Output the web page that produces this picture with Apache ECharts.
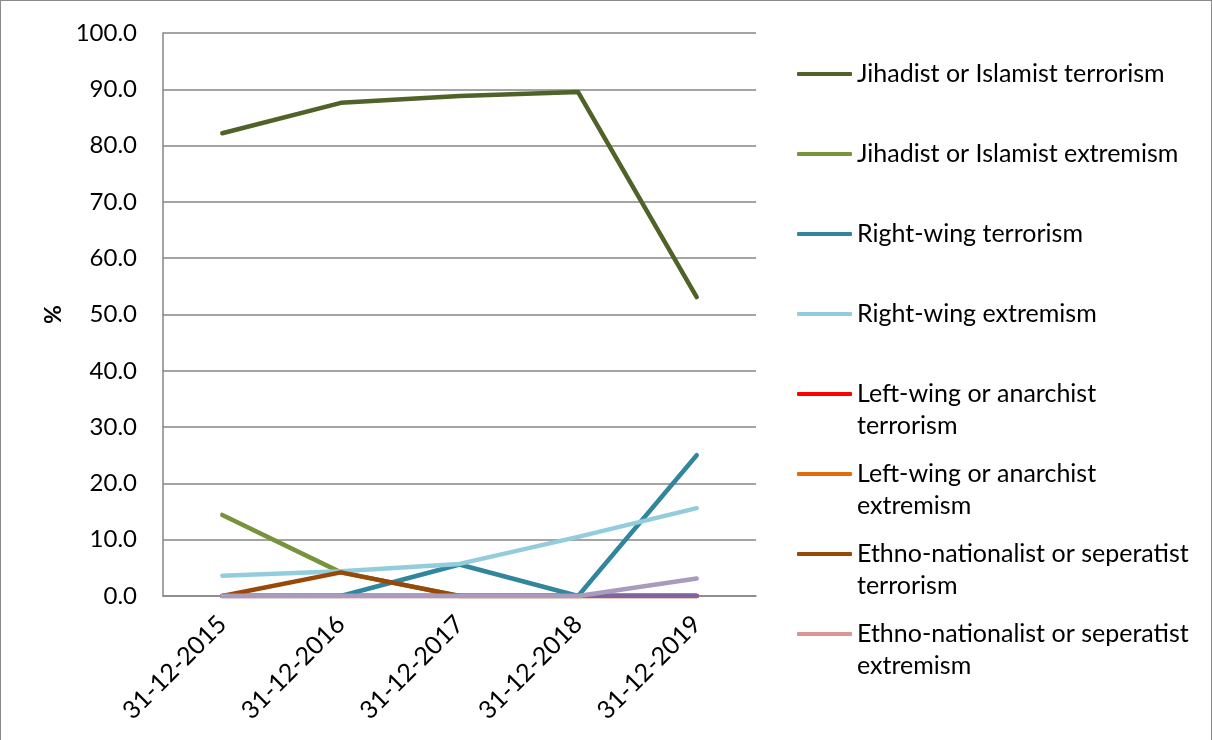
<!DOCTYPE html>
<html>
<head>
<meta charset="utf-8">
<script src="https://cdn.jsdelivr.net/npm/echarts@6/dist/echarts.min.js"></script>
<style>
  html, body { margin: 0; padding: 0; background: #fff; }
  #chart { width: 1212px; height: 740px; box-sizing: border-box; border: 1px solid #8a8a8a; border-bottom: none; }
</style>
</head>
<body>
<div id="chart"></div>
<script>
// Share of cases by ideology, year-end snapshots (%)
const categories = ['31-12-2015', '31-12-2016', '31-12-2017', '31-12-2018', '31-12-2019'];

const jihadistTerrorism   = [82.2, 87.6, 88.8, 89.5, 53.1];
const jihadistExtremism   = [14.4, 4.2, 0, 0, 0];
const rightTerrorism      = [0, 0, 5.6, 0, 25.0];
const rightExtremism      = [3.6, 4.4, 5.7, 10.5, 15.6];
const leftTerrorism       = [0, 0, 0, 0, 0];
const leftExtremism       = [0, 0, 0, 0, 0];
const ethnoTerrorism      = [0, 4.2, 0, 0, 0];
const ethnoExtremism      = [0, 0, 0, 0, 0];
const otherTerrorism      = [0, 0, 0, 0, 0];
const otherExtremism      = [0, 0, 0, 0, 3.1];

const yTicks = { min: 0, max: 100, step: 10 };

const FONT = 'Lato';
const TXT = '#000';

const seriesDefs = [
  { name: 'Jihadist or Islamist terrorism', data: jihadistTerrorism, color: '#4F6228', legend: true },
  { name: 'Jihadist or Islamist extremism', data: jihadistExtremism, color: '#77933C', legend: true },
  { name: 'Right-wing terrorism', data: rightTerrorism, color: '#31859C', legend: true },
  { name: 'Right-wing extremism', data: rightExtremism, color: '#93CDDD', legend: true },
  { name: 'Left-wing or anarchist terrorism', data: leftTerrorism, color: '#FF0000', legend: true, label: 'Left-wing or anarchist\nterrorism' },
  { name: 'Left-wing or anarchist extremism', data: leftExtremism, color: '#E46C0A', legend: true, label: 'Left-wing or anarchist\nextremism' },
  { name: 'Ethno-nationalist or seperatist terrorism', data: ethnoTerrorism, color: '#984807', legend: true, label: 'Ethno-nationalist or seperatist\nterrorism' },
  { name: 'Ethno-nationalist or seperatist extremism', data: ethnoExtremism, color: '#D99694', legend: true, label: 'Ethno-nationalist or seperatist\nextremism' },
  { name: 'Other terrorism', data: otherTerrorism, color: '#8064A2', legend: false },
  { name: 'Other extremism', data: otherExtremism, color: '#A99BBD', legend: false }
];

// Two-line entries get a blank leading line so the icon lines up with the first text line
const labelByName = {};
seriesDefs.forEach(s => { labelByName[s.name] = s.label ? ' \n' + s.label : s.name; });

const LINE_H = 32;
const legendData = seriesDefs.filter(s => s.legend).map(s => ({
  name: s.name,
  textStyle: {
    // every entry occupies a box three lines tall
    padding: s.label ? [0, 0, 0, 0] : [LINE_H, 0, LINE_H, 0]
  }
}));

const chart = echarts.init(document.getElementById('chart'), null, { renderer: 'canvas' });

chart.setOption({
  animation: false,
  backgroundColor: '#fff',
  textStyle: { fontFamily: FONT },
  grid: { left: 162, right: 455, top: 32, bottom: 144, containLabel: false },
  legend: {
    orient: 'vertical',
    left: 796,
    top: 25,
    padding: 0,
    itemGap: -16,
    itemWidth: 55,
    itemHeight: 4,
    icon: 'roundRect',
    data: legendData,
    formatter: name => labelByName[name],
    textStyle: { fontFamily: FONT, fontSize: 25, color: TXT, lineHeight: LINE_H },
    selectedMode: false
  },
  xAxis: {
    type: 'category',
    data: categories,
    boundaryGap: true,
    axisLine: { show: true, lineStyle: { color: '#868686', width: 1.5 } },
    axisTick: { show: false },
    axisLabel: { rotate: 45, fontSize: 25, color: TXT, fontFamily: FONT, margin: 24, interval: 0 }
  },
  yAxis: {
    type: 'value',
    min: yTicks.min,
    max: yTicks.max,
    interval: yTicks.step,
    name: '%',
    nameLocation: 'middle',
    nameRotate: 90,
    nameGap: 98,
    nameTextStyle: { fontSize: 23, fontWeight: 'bold', color: TXT, fontFamily: FONT },
    axisLine: { show: true, lineStyle: { color: '#868686', width: 1.5 } },
    axisTick: { show: false },
    axisLabel: { fontSize: 24, color: TXT, fontFamily: FONT, margin: 26, formatter: v => v.toFixed(1) },
    splitLine: { show: true, lineStyle: { color: '#868686', width: 1.5 } }
  },
  series: seriesDefs.map(s => ({
    name: s.name,
    type: 'line',
    data: s.data,
    symbol: 'none',
    smooth: false,
    color: s.color,
    lineStyle: { color: s.color, width: 4.5, cap: 'round', join: 'round' }
  }))
});
</script>
</body>
</html>
